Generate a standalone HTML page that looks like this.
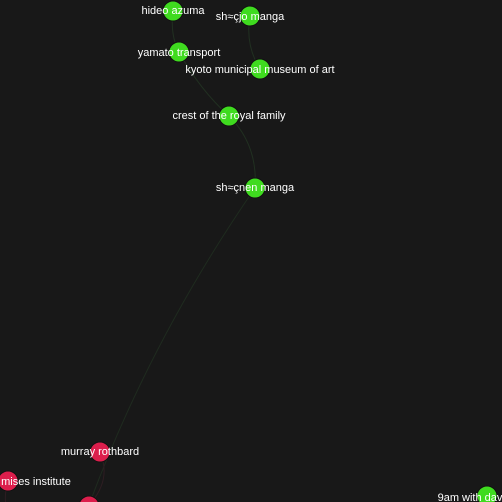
<!DOCTYPE html>
<html><head><style>
body{margin:0;background:#181818;}
svg{display:block}
text{font-family:"Liberation Sans",sans-serif;font-size:11px;fill:#fff;text-anchor:middle;dominant-baseline:middle}
</style></head><body>
<svg width="502" height="502" viewBox="0 0 502 502">
<rect width="502" height="502" fill="#181818"/>
<g fill="none" stroke-width="1">
<path d="M173,11 Q170,35 179,52" stroke="#213021"/>
<path d="M250,16 Q245,45 260,69" stroke="#213021"/>
<path d="M179,52 Q200,90 229,116" stroke="#213021"/>
<path d="M229,116 Q258,145 255,188" stroke="#213021"/>
<path d="M255,188 Q150,340 89,505" stroke="#1f2b1f"/>
<path d="M100,452 Q112,480 89,505" stroke="#2e1d22"/>
<path d="M8,481 Q4,495 6,505" stroke="#2e1d22"/>
</g>
<g stroke="#111" stroke-width="1">
<circle cx="173" cy="11" r="10" fill="#3fdb1f"/>
<circle cx="250" cy="16" r="10" fill="#3fdb1f"/>
<circle cx="179" cy="52" r="10" fill="#3fdb1f"/>
<circle cx="260" cy="69" r="10" fill="#3fdb1f"/>
<circle cx="229" cy="116" r="10" fill="#3fdb1f"/>
<circle cx="255" cy="188" r="10" fill="#3fdb1f"/>
<circle cx="487" cy="496" r="10" fill="#3fdb1f"/>
<circle cx="100" cy="452" r="10" fill="#dc1e4c"/>
<circle cx="8" cy="481" r="10" fill="#dc1e4c"/>
<circle cx="89" cy="506" r="10" fill="#dc1e4c"/>
</g>
<text x="173" y="11">hideo azuma</text>
<text x="250" y="17">sh≈çjo manga</text>
<text x="179" y="53">yamato transport</text>
<text x="260" y="70">kyoto municipal museum of art</text>
<text x="229" y="116">crest of the royal family</text>
<text x="255" y="188">sh≈çnen manga</text>
<text x="100" y="452">murray rothbard</text>
<text x="36" y="482">mises institute</text>
<text x="470" y="498">9am with dav</text>
</svg>
</body></html>
